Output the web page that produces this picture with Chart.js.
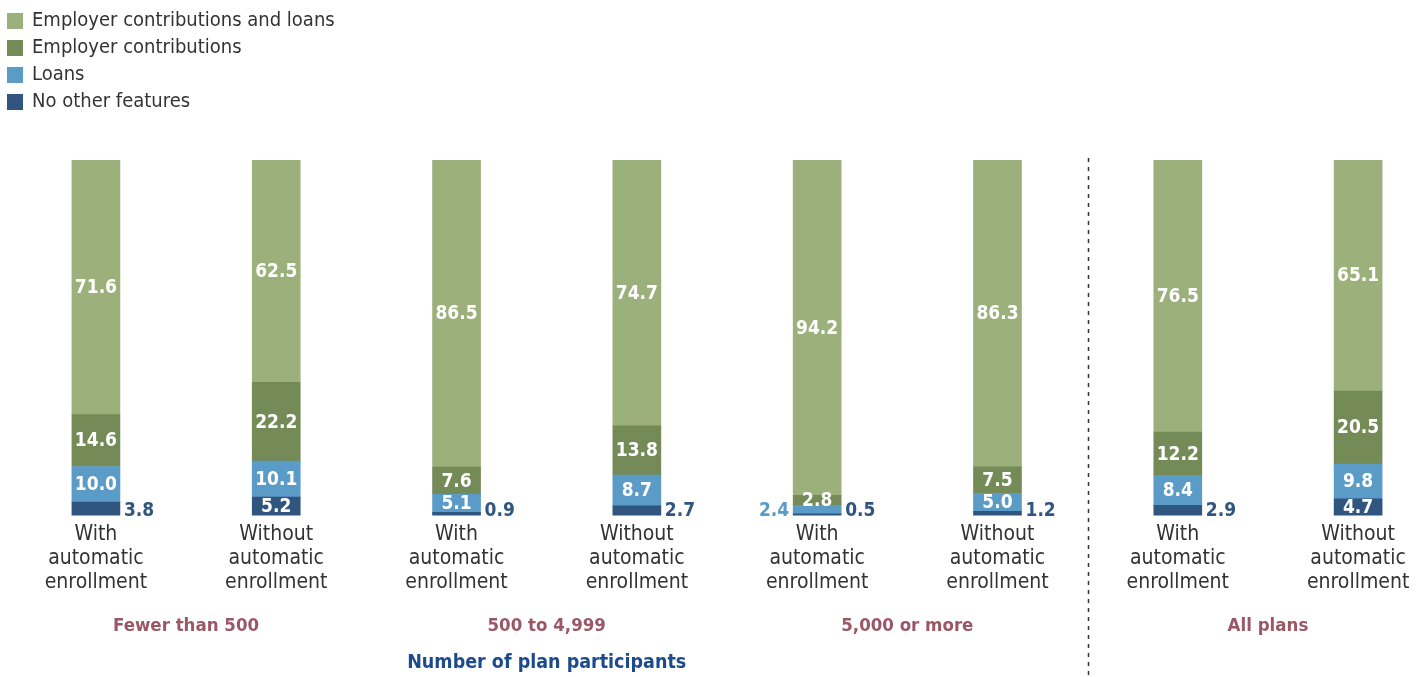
<!DOCTYPE html>
<html><head><meta charset="utf-8">
<script src="https://cdn.jsdelivr.net/npm/chart.js@4.4.1/dist/chart.umd.min.js"></script>
<style>html,body{margin:0;padding:0;background:#fff}#wrap{width:1425px;height:677px;position:relative}</style>
</head><body><div id="wrap"><canvas id="c"></canvas></div>
<script>
const categories = [
  ["With","automatic","enrollment"],["Without","automatic","enrollment"],
  ["With","automatic","enrollment"],["Without","automatic","enrollment"],
  ["With","automatic","enrollment"],["Without","automatic","enrollment"],
  ["With","automatic","enrollment"],["Without","automatic","enrollment"]
];
const groups = ["Fewer than 500","500 to 4,999","5,000 or more","All plans"];
const axisTitle = "Number of plan participants";
const seriesNames = ["No other features","Loans","Employer contributions","Employer contributions and loans"];
const noOther   = [3.8, 5.2, 0.9, 2.7, 0.5, 1.2, 2.9, 4.7];
const loans     = [10.0, 10.1, 5.1, 8.7, 2.4, 5.0, 8.4, 9.8];
const employer  = [14.6, 22.2, 7.6, 13.8, 2.8, 7.5, 12.2, 20.5];
const empLoans  = [71.6, 62.5, 86.5, 74.7, 94.2, 86.3, 76.5, 65.1];
const colors = ["#30557f","#5b9bc7","#748a57","#9bb07a"];
const FONT = "'DejaVu Sans Condensed','Liberation Sans Narrow',sans-serif";

const seriesVals = [noOther, loans, employer, empLoans];
const datasets = seriesVals.map((vals,k)=>({
  label: seriesNames[k],
  data: vals.map((v,i)=>({x:i,y:v})),
  backgroundColor: colors[k],
  barThickness: 48,
  borderWidth: 0
}));

const overlay = {
  id:'overlay',
  afterDatasetsDraw(chart){
    const ctx = chart.ctx, xs = chart.scales.x;
    ctx.save();
    chart.data.datasets.forEach((ds,k)=>{
      const meta = chart.getDatasetMeta(k);
      meta.data.forEach((bar,i)=>{
        const v = ds.data[i].y;
        const txt = v.toFixed(1);
        ctx.font = "bold 19px " + FONT;
        const left = bar.x - bar.width/2, right = bar.x + bar.width/2;
        const baseY = chart.getDatasetMeta(0).data[i].base;
        if (k===0 && v < 4){
          ctx.fillStyle = colors[0]; ctx.textAlign='left'; ctx.textBaseline='alphabetic';
          ctx.fillText(txt, right+4, baseY);
        } else if (k===1 && v < 3){
          ctx.fillStyle = colors[1]; ctx.textAlign='right'; ctx.textBaseline='alphabetic';
          ctx.fillText(txt, left-4, baseY);
        } else {
          ctx.fillStyle = '#fff'; ctx.textAlign='center'; ctx.textBaseline='middle';
          ctx.fillText(txt, bar.x, (bar.y+bar.base)/2+1);
        }
      });
    });
    ctx.font = "bold 18.5px " + FONT;
    ctx.fillStyle = "#9a5766"; ctx.textAlign='center'; ctx.textBaseline='middle';
    groups.forEach((g,j)=>{
      ctx.fillText(g, xs.getPixelForValue(2*j+0.5), 626);
    });
    ctx.font = "bold 19.5px " + FONT;
    ctx.fillStyle = "#1c4a8d";
    ctx.fillText(axisTitle, (xs.getPixelForValue(0)+xs.getPixelForValue(5))/2, 663);
    const dx = Math.round(xs.getPixelForValue(5.5))+0.5;
    ctx.strokeStyle = "#333"; ctx.lineWidth = 1.5; ctx.setLineDash([4,5]);
    ctx.beginPath(); ctx.moveTo(dx,158); ctx.lineTo(dx,677); ctx.stroke();
    ctx.setLineDash([]);
    ctx.font = "20px " + FONT; ctx.textAlign='left'; ctx.textBaseline='middle';
    for (let r=0;r<4;r++){
      const k = 3-r, y = 21 + r*27;
      ctx.fillStyle = colors[k]; ctx.fillRect(7, y-8, 16, 16);
      ctx.fillStyle = "#333"; ctx.fillText(seriesNames[k], 32, y);
    }
    ctx.restore();
  }
};

new Chart(document.getElementById('c'), {
  type:'bar',
  data:{datasets},
  options:{
    responsive:true, maintainAspectRatio:false, animation:false,
    layout:{padding:{top:160,left:0,right:0,bottom:75}},
    plugins:{legend:{display:false},tooltip:{enabled:false}},
    scales:{
      x:{type:'linear', stacked:true, min:-0.532, max:7.371, offset:false,
         grid:{display:false, drawTicks:false}, border:{display:false},
         afterBuildTicks(axis){ axis.ticks = categories.map((c,i)=>({value:i})); },
         ticks:{autoSkip:false, maxRotation:0, padding:7, color:'#333',
           font:{family:FONT, size:21, lineHeight:1.15},
           callback:(v)=>categories[v] || ''}},
      y:{stacked:true, display:false, min:0, max:100}
    }
  },
  plugins:[overlay]
});
</script></body></html>
